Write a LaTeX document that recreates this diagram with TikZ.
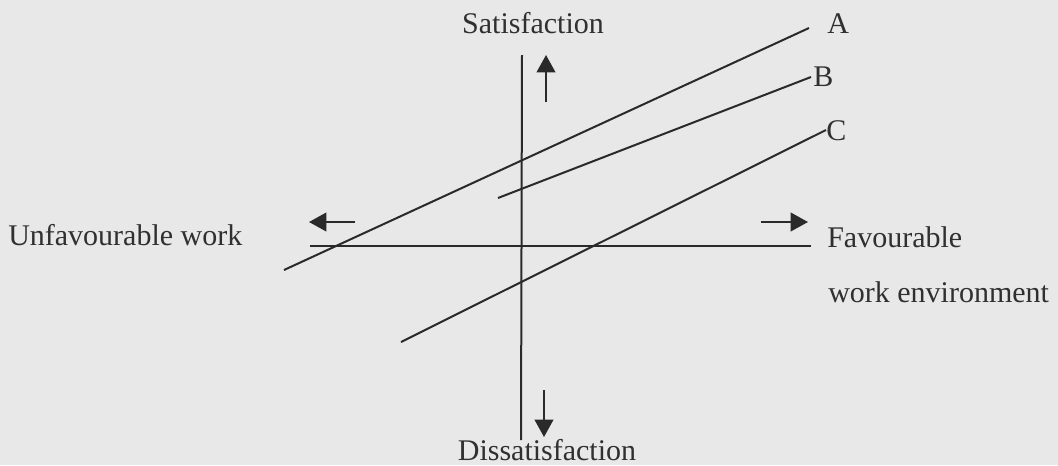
\documentclass[tikz,border=0pt]{standalone}
\usepackage{fontspec}
\setmainfont{Liberation Serif}
\usetikzlibrary{arrows.meta}
\definecolor{bg}{HTML}{E8E8E8}
\definecolor{ink}{HTML}{2A2A2A}
\definecolor{txt}{HTML}{303030}
\tikzset{
  lbl/.style={inner sep=0pt, text=txt, font=\fontsize{22.5}{27}\selectfont},
  ln/.style={draw=ink, line width=1.5pt},
  dirarrow/.style={draw=ink, line width=1.4pt, -{Triangle[length=13pt,width=14pt]}}
}
\begin{document}
\begin{tikzpicture}[x=0.75pt,y=-0.75pt]
\fill[bg] (0,0) rectangle (1058,465);
\useasboundingbox (0,0) rectangle (1058,465);
% labels
\node[lbl, anchor=base] (sat) at (533,33) {Satisfaction};
\node[lbl, anchor=base] (dis) at (547,460) {Dissatisfaction};
\node[lbl, anchor=base west] (unf) at (8,245) {Unfavourable work};
\node[lbl, anchor=base west] (fav) at (827,247) {Favourable};
\node[lbl, anchor=base west] (env) at (828,302) {work environment};
\node[lbl, anchor=base west] (la) at (827,33) {A};
\node[lbl, anchor=base west] (lb) at (813,86) {B};
\node[lbl, anchor=base west] (lc) at (826,140) {C};
% axes
\coordinate (vt) at (522,55);
\coordinate (vb) at (521,440);
\coordinate (hl) at (310,246);
\coordinate (hr) at (811,246);
\draw[ln] (vt) -- (vb);
\draw[ln] (hl) -- (hr);
% direction arrows
\coordinate (ut) at (546,102); \coordinate (uh) at (546,55);
\coordinate (dt) at (544,390); \coordinate (dh) at (544,437);
\coordinate (lt) at (355,222); \coordinate (lh) at (309,222);
\coordinate (rt) at (761,222); \coordinate (rh) at (808,222);
\draw[dirarrow] (ut) -- (uh);
\draw[dirarrow] (dt) -- (dh);
\draw[dirarrow] (lt) -- (lh);
\draw[dirarrow] (rt) -- (rh);
% lines A, B, C
\coordinate (a0) at (284,270); \coordinate (a1) at (809,28);
\coordinate (b0) at (498,198); \coordinate (b1) at (811,77);
\coordinate (c0) at (401,342); \coordinate (c1) at (826,130);
\draw[ln] (a0) -- (a1);
\draw[ln] (b0) -- (b1);
\draw[ln] (c0) -- (c1);
\end{tikzpicture}
\end{document}
